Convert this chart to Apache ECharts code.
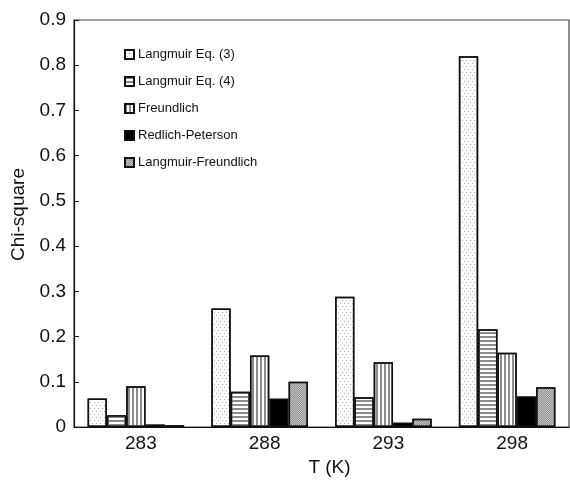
<!DOCTYPE html>
<html>
<head>
<meta charset="utf-8">
<script src="https://cdn.jsdelivr.net/npm/echarts@6/dist/echarts.min.js"></script>
<style>html,body{margin:0;padding:0;background:#fff;}#c{width:570px;height:484px;}</style>
</head>
<body>
<div id="c"></div>
<script>
var categories = ['283', '288', '293', '298'];
var seriesNames = ['Langmuir Eq. (3)', 'Langmuir Eq. (4)', 'Freundlich', 'Redlich-Peterson', 'Langmuir-Freundlich'];
var langmuir3 = [0.063, 0.262, 0.288, 0.820];
var langmuir4 = [0.026, 0.078, 0.066, 0.216];
var freundlich = [0.090, 0.158, 0.143, 0.164];
var redlichPeterson = [0.006, 0.063, 0.010, 0.068];
var langmuirFreundlich = [0.004, 0.100, 0.018, 0.088];
var yTicks = [0, 0.1, 0.2, 0.3, 0.4, 0.5, 0.6, 0.7, 0.8, 0.9];

var font = 'Liberation Sans, Arial, sans-serif';
var styles = [
  {color: '#ffffff', decal: {symbol: 'rect', symbolSize: 1, dashArrayX: [[1, 3], [0, 2, 1, 1]], dashArrayY: [1, 1.5], color: '#b0b0b0'}},
  {color: '#ffffff', decal: {symbol: 'rect', symbolSize: 1, dashArrayX: [1, 0], dashArrayY: [1.5, 1.5], color: '#8a8a8a'}},
  {color: '#ffffff', decal: {symbol: 'rect', symbolSize: 1, dashArrayX: [1.5, 1.5], dashArrayY: [1, 0], color: '#8a8a8a'}},
  {color: '#000000'},
  {color: '#c4c4c4', decal: {symbol: 'rect', symbolSize: 1, dashArrayX: [[1, 1], [0, 1, 1, 0]], dashArrayY: [1, 0], color: '#8f8f8f'}}
];
var dataSets = [langmuir3, langmuir4, freundlich, redlichPeterson, langmuirFreundlich];

var series = seriesNames.map(function (n, i) {
  var st = {color: styles[i].color, borderColor: '#111', borderWidth: 1.5};
  if (styles[i].decal) st.decal = styles[i].decal;
  return {
    name: n, type: 'bar', data: dataSets[i],
    barGap: '0%', barCategoryGap: '22%',
    itemStyle: st,
    emphasis: {disabled: true}
  };
});

var chart = echarts.init(document.getElementById('c'));
chart.setOption({
  animation: false,
  backgroundColor: '#fff',
  grid: {left: 74, top: 20, right: 1, bottom: 57, show: true, borderColor: '#444', borderWidth: 1.2},
  legend: {
    orient: 'vertical', left: 119, top: 43, itemWidth: 9, itemHeight: 9, itemGap: 14,
    icon: 'rect',
    textStyle: {fontFamily: font, fontSize: 13, color: '#111', padding: [0, 0, 0, -1]},
    data: seriesNames
  },
  xAxis: {
    type: 'category', data: categories,
    name: 'T (K)', nameLocation: 'middle', nameGap: 30,
    nameTextStyle: {fontFamily: font, fontSize: 19, color: '#111', padding: [0, 0, 0, 16]},
    axisLine: {lineStyle: {color: '#111', width: 1.2}},
    axisTick: {inside: true, length: 5, lineStyle: {color: '#111'}},
    axisLabel: {fontFamily: font, fontSize: 19, color: '#111', margin: 7, padding: [0, 0, 0, 10]},
  },
  yAxis: {
    type: 'value', min: 0, max: 0.9, interval: 0.1,
    name: 'Chi-square', nameLocation: 'middle', nameGap: 44,
    nameTextStyle: {fontFamily: font, fontSize: 19, color: '#111', padding: [0, 0, 0, 18]},
    axisLine: {show: true, lineStyle: {color: '#111', width: 1.2}},
    axisTick: {show: true, inside: true, length: 5, lineStyle: {color: '#111'}},
    splitLine: {show: false},
    axisLabel: {fontFamily: font, fontSize: 19, color: '#111', margin: 8,
      formatter: function (v) { var t = yTicks.filter(function (x) { return Math.abs(x - v) < 1e-9; }); return t.length ? String(t[0]) : ''; }}
  },
  series: series
});
</script>
</body>
</html>
